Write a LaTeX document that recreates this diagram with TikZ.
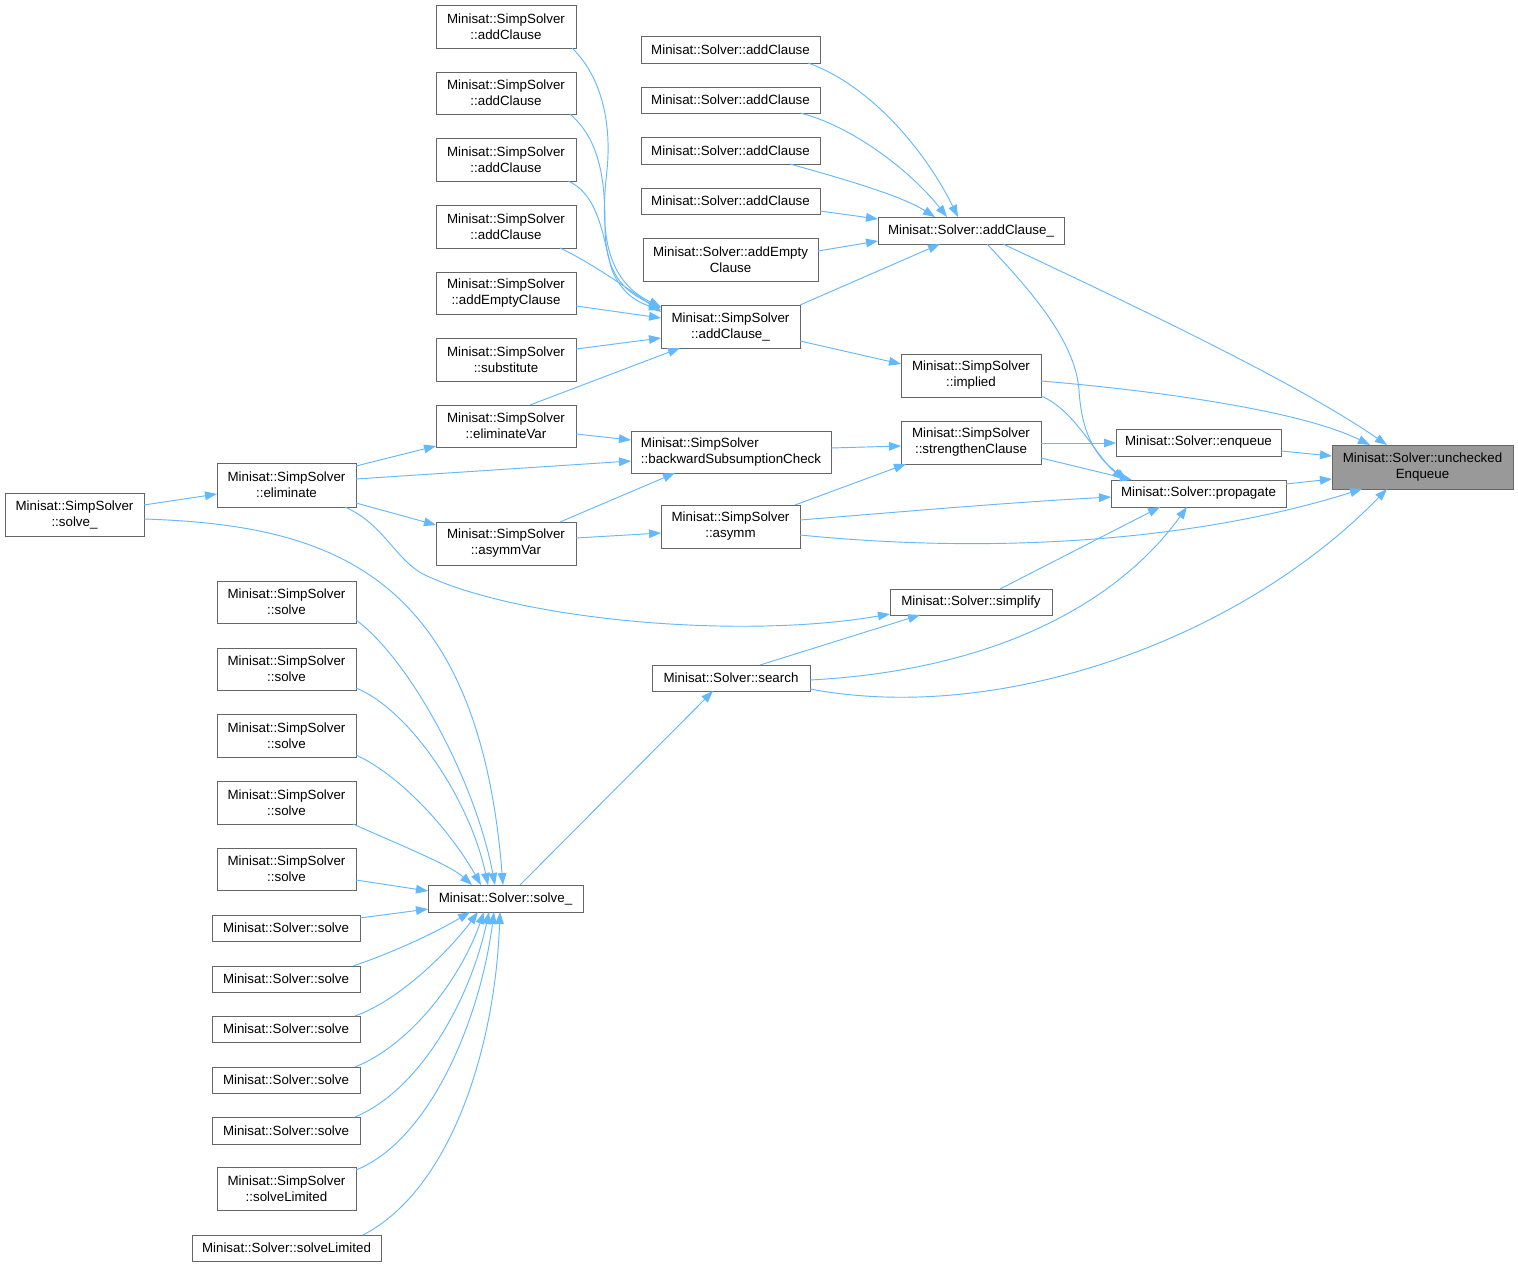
\documentclass[tikz,border=0pt]{standalone}
\usepackage{fontspec}
\setmainfont{Liberation Sans}
\usetikzlibrary{arrows.meta}
\definecolor{edgec}{HTML}{63B8FF}
\definecolor{bordc}{HTML}{666666}
\definecolor{targc}{HTML}{999999}
\tikzset{
  box/.style={draw=bordc,line width=0.75pt,fill=white,inner sep=0pt,outer sep=0pt,
    align=center,font=\fontsize{10}{12}\selectfont},
  e/.style={draw=edgec,line width=0.7pt,-{Triangle[length=9pt,width=6.5pt]}}
}
\newcommand\nd[7][]{\node[box,#1,minimum width={(#5-#3)*0.75pt},minimum height={(#6-#4)*0.75pt}] (#2) at ({(#3+#5)/2},{(#4+#6)/2}) {#7};}
\newcommand\nat[3]{([shift={(#2,#3)}]#1.north west)}
\begin{document}
\begin{tikzpicture}[x=0.75pt,y=-0.75pt]
\useasboundingbox[fill=white] (0,0) rectangle (1518,1267);
% nodes
\nd[fill=targc]{ue}{1332}{445}{1513}{489}{Minisat::Solver::unchecked\\Enqueue}
\nd{sac}{878}{217}{1064}{244}{Minisat::Solver::addClause\_}
\nd{sa1}{641}{36}{820}{63}{Minisat::Solver::addClause}
\nd{sa2}{641}{87}{820}{113}{Minisat::Solver::addClause}
\nd{sa3}{641}{137}{820}{164}{Minisat::Solver::addClause}
\nd{sa4}{641}{188}{820}{214}{Minisat::Solver::addClause}
\nd{sae}{643}{238}{818}{281}{Minisat::Solver::addEmpty\\Clause}
\nd{pac}{661}{305}{800}{348}{Minisat::SimpSolver\\::addClause\_}
\nd{imp}{901}{354}{1041}{397}{Minisat::SimpSolver\\::implied}
\nd{enq}{1116}{429}{1281}{456}{Minisat::Solver::enqueue}
\nd{str}{901}{421}{1041}{464}{Minisat::SimpSolver\\::strengthenClause}
\nd{prop}{1111}{480}{1286}{507}{Minisat::Solver::propagate}
\nd{asy}{661}{505}{800}{548}{Minisat::SimpSolver\\::asymm}
\nd[align=left]{bsc}{631}{431}{831}{473}{Minisat::SimpSolver\\::backwardSubsumptionCheck}
\nd{pa1}{436}{5}{576}{48}{Minisat::SimpSolver\\::addClause}
\nd{pa2}{436}{72}{576}{114}{Minisat::SimpSolver\\::addClause}
\nd{pa3}{436}{138}{576}{181}{Minisat::SimpSolver\\::addClause}
\nd{pa4}{436}{205}{576}{248}{Minisat::SimpSolver\\::addClause}
\nd{pae}{436}{272}{576}{314}{Minisat::SimpSolver\\::addEmptyClause}
\nd{sub}{436}{338}{576}{381}{Minisat::SimpSolver\\::substitute}
\nd{elv}{436}{405}{576}{447}{Minisat::SimpSolver\\::eliminateVar}
\nd{asv}{436}{522}{576}{565}{Minisat::SimpSolver\\::asymmVar}
\nd{eli}{217}{463}{356}{507}{Minisat::SimpSolver\\::eliminate}
\nd{pso}{5}{493}{144}{536}{Minisat::SimpSolver\\::solve\_}
\nd{simp}{890}{589}{1052}{615}{Minisat::Solver::simplify}
\nd{sea}{652}{665}{810}{691}{Minisat::Solver::search}
\nd{sso}{428}{885}{583}{912}{Minisat::Solver::solve\_}
\nd{ps1}{217}{581}{356}{623}{Minisat::SimpSolver\\::solve}
\nd{ps2}{217}{648}{356}{690}{Minisat::SimpSolver\\::solve}
\nd{ps3}{217}{714}{356}{757}{Minisat::SimpSolver\\::solve}
\nd{ps4}{217}{781}{356}{824}{Minisat::SimpSolver\\::solve}
\nd{ps5}{217}{848}{356}{890}{Minisat::SimpSolver\\::solve}
\nd{ss1}{212}{915}{360}{941}{Minisat::Solver::solve}
\nd{ss2}{212}{966}{360}{992}{Minisat::Solver::solve}
\nd{ss3}{212}{1016}{360}{1042}{Minisat::Solver::solve}
\nd{ss4}{212}{1067}{360}{1093}{Minisat::Solver::solve}
\nd{ss5}{212}{1117}{360}{1144}{Minisat::Solver::solve}
\nd{psl}{217}{1167}{356}{1210}{Minisat::SimpSolver\\::solveLimited}
\nd{ssl}{192}{1235}{381}{1261}{Minisat::Solver::solveLimited}
% edges into uncheckedEnqueue
\draw[e] \nat{sac}{125}{27} .. controls (1150,313) and (1300,385) .. \nat{ue}{55}{0};
\draw[e] \nat{imp}{140}{27} .. controls (1150,390) and (1300,410) .. \nat{ue}{38}{0};
\draw[e] \nat{enq}{165}{22} -- \nat{ue}{0}{11};
\draw[e] \nat{prop}{175}{4} -- \nat{ue}{0}{34};
\draw[e] \nat{asy}{139}{30} .. controls (1000,555) and (1200,540) .. \nat{ue}{30}{44};
\draw[e] \nat{sea}{158}{24} .. controls (1000,725) and (1240,640) .. \nat{ue}{55}{44};
% into propagate
\draw[e] \nat{sea}{158}{15} .. controls (1000,670) and (1120,600) .. \nat{prop}{76}{27};
\draw[e] \nat{simp}{110}{0} -- \nat{prop}{49}{27};
\draw[e] \nat{sac}{109}{27} .. controls (1030,290) and (1075,340) .. (1079,390) .. controls (1082,440) and (1100,460) .. \nat{prop}{16}{0};
\draw[e] \nat{imp}{140}{42} .. controls (1075,410) and (1095,455) .. \nat{prop}{13}{0};
\draw[e] \nat{str}{140}{37} -- \nat{prop}{21}{0};
\draw[e] \nat{asy}{139}{15} .. controls (900,512) and (1000,503) .. \nat{prop}{0}{17};
% simplify, search
\draw[e] \nat{sea}{108}{0} -- \nat{simp}{30}{26};
\draw[e] \nat{eli}{128}{44} .. controls (385,525) and (395,560) .. (425,575) .. controls (520,620) and (740,640) .. \nat{simp}{0}{25};
\draw[e] \nat{sso}{92}{0} -- \nat{sea}{61}{26};
% eliminate & solve_
\draw[e] \nat{pso}{139}{12} -- \nat{eli}{0}{31};
\draw[e] \nat{pso}{139}{26} .. controls (330,525) and (478,572) .. \nat{sso}{75}{0};
\draw[e] \nat{ps1}{139}{39} .. controls (410,660) and (475,780) .. \nat{sso}{67}{0};
\draw[e] \nat{ps2}{139}{40} .. controls (410,710) and (470,800) .. \nat{sso}{60}{0};
\draw[e] \nat{ps3}{139}{41} .. controls (400,775) and (450,830) .. \nat{sso}{53}{0};
\draw[e] \nat{ps4}{136}{43} .. controls (400,845) and (450,865) .. \nat{sso}{44}{0};
\draw[e] \nat{ps5}{139}{32} -- \nat{sso}{0}{6};
\draw[e] \nat{ss1}{148}{3} -- \nat{sso}{0}{24};
\draw[e] \nat{ss2}{141}{0} .. controls (400,950) and (440,930) .. \nat{sso}{42}{27};
\draw[e] \nat{ss3}{143}{0} .. controls (400,1000) and (450,950) .. \nat{sso}{50}{27};
\draw[e] \nat{ss4}{143}{0} .. controls (410,1045) and (460,980) .. \nat{sso}{56}{27};
\draw[e] \nat{ss5}{143}{0} .. controls (420,1090) and (470,1000) .. \nat{sso}{61}{27};
\draw[e] \nat{psl}{139}{3} .. controls (430,1140) and (480,1020) .. \nat{sso}{66}{27};
\draw[e] \nat{ssl}{171}{0} .. controls (450,1190) and (495,1050) .. \nat{sso}{72}{27};
% into SimpSolver::addClause_
\draw[e] \nat{pa1}{136}{43} .. controls (600,75) and (612,120) .. (607,170) .. controls (600,230) and (605,280) .. \nat{pac}{0}{2};
\draw[e] \nat{pa2}{134}{42} .. controls (600,140) and (605,180) .. (605,225) .. controls (605,270) and (620,290) .. \nat{pac}{0}{3};
\draw[e] \nat{pa3}{132}{43} .. controls (600,195) and (603,240) .. (612,270) .. controls (622,295) and (640,303) .. \nat{pac}{0}{5};
\draw[e] \nat{pa4}{124}{43} .. controls (590,262) and (630,290) .. \nat{pac}{0}{7};
\draw[e] \nat{pae}{140}{34} -- \nat{pac}{0}{13};
\draw[e] \nat{sub}{140}{11} -- \nat{pac}{0}{33};
\draw[e] \nat{elv}{94}{0} -- \nat{pac}{19}{43};
% into Solver::addClause_
\draw[e] \nat{sa1}{167}{27} .. controls (870,85) and (925,150) .. \nat{sac}{80}{0};
\draw[e] \nat{sa2}{159}{26} .. controls (850,125) and (910,170) .. \nat{sac}{69}{0};
\draw[e] \nat{sa3}{149}{27} .. controls (840,178) and (900,195) .. \nat{sac}{57}{0};
\draw[e] \nat{sa4}{179}{23} -- \nat{sac}{0}{2};
\draw[e] \nat{sae}{175}{13} -- \nat{sac}{0}{24};
\draw[e] \nat{pac}{139}{0} -- \nat{sac}{62}{27};
\draw[e] \nat{pac}{139}{36} -- \nat{imp}{0}{10};
% middle cluster
\draw[e] \nat{str}{140}{22} -- \nat{enq}{0}{14};
\draw[e] \nat{bsc}{200}{17} -- \nat{str}{0}{25};
\draw[e] \nat{asy}{134}{0} -- \nat{str}{5}{43};
\draw[e] \nat{elv}{140}{29} -- \nat{bsc}{0}{9};
\draw[e] \nat{eli}{139}{16} -- \nat{bsc}{0}{30};
\draw[e] \nat{asv}{124}{0} -- \nat{bsc}{44}{42};
\draw[e] \nat{eli}{139}{3} -- \nat{elv}{0}{41};
\draw[e] \nat{eli}{139}{40} -- \nat{asv}{0}{3};
\draw[e] \nat{asv}{140}{16} -- \nat{asy}{0}{28};
\end{tikzpicture}
\end{document}
